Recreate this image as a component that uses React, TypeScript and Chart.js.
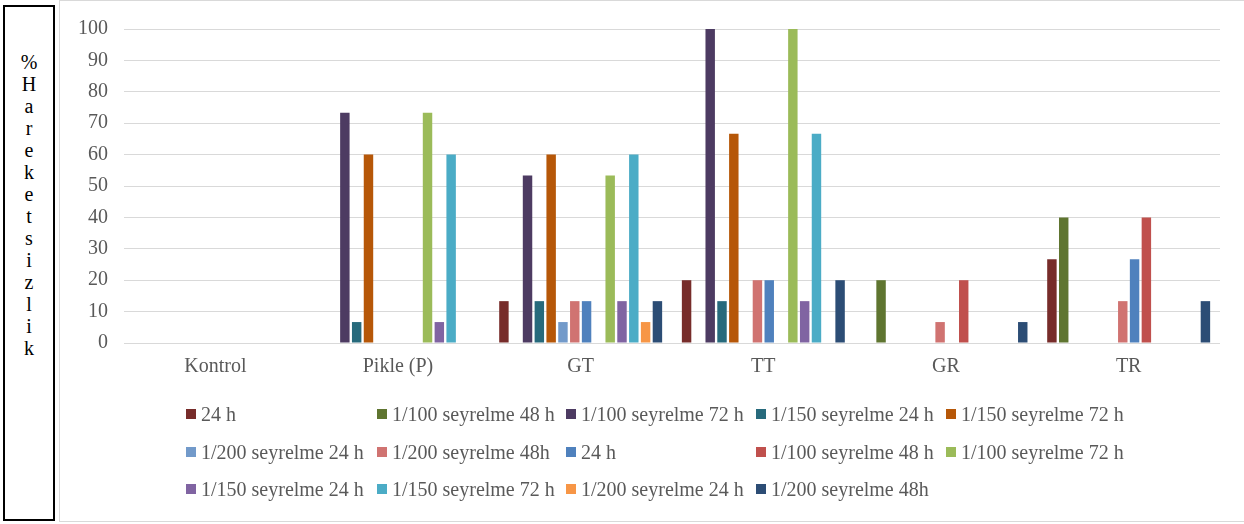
import React, { useEffect, useRef } from "react";
import { Chart, registerables } from "chart.js";

Chart.register(...registerables);

const categories = ["Kontrol", "Pikle (P)", "GT", "TT", "GR", "TR"];
const yTicks = [0, 10, 20, 30, 40, 50, 60, 70, 80, 90, 100];
const axisTitle = "%Hareketsizlik";

const seriesLabels = [
  "24 h",
  "1/100 seyrelme 48 h",
  "1/100 seyrelme 72 h",
  "1/150 seyrelme 24 h",
  "1/150 seyrelme 72 h",
  "1/200 seyrelme 24 h",
  "1/200 seyrelme 48h",
  "24 h",
  "1/100 seyrelme 48 h",
  "1/100 seyrelme 72 h",
  "1/150 seyrelme 24 h",
  "1/150 seyrelme 72 h",
  "1/200 seyrelme 24 h",
  "1/200 seyrelme 48h",
];

const seriesColors = [
  "#772C2A",
  "#5F7530",
  "#4D3B62",
  "#276A7C",
  "#B65708",
  "#729ACA",
  "#D07371",
  "#4F81BD",
  "#C0504D",
  "#9BBB59",
  "#8064A2",
  "#4BACC6",
  "#F79646",
  "#2C4D75",
];

const s1 = [0, 0, 13.33, 20, 0, 26.67];
const s2 = [0, 0, 0, 0, 20, 40];
const s3 = [0, 73.33, 53.33, 100, 0, 0];
const s4 = [0, 6.67, 13.33, 13.33, 0, 0];
const s5 = [0, 60, 60, 66.67, 0, 0];
const s6 = [0, 0, 6.67, 0, 0, 0];
const s7 = [0, 0, 13.33, 20, 6.67, 13.33];
const s8 = [0, 0, 13.33, 20, 0, 26.67];
const s9 = [0, 0, 0, 0, 20, 40];
const s10 = [0, 73.33, 53.33, 100, 0, 0];
const s11 = [0, 6.67, 13.33, 13.33, 0, 0];
const s12 = [0, 60, 60, 66.67, 0, 0];
const s13 = [0, 0, 6.67, 0, 0, 0];
const s14 = [0, 0, 13.33, 20, 6.67, 13.33];

const seriesValues = [s1, s2, s3, s4, s5, s6, s7, s8, s9, s10, s11, s12, s13, s14];

const FONT = '"Liberation Serif", "Times New Roman", serif';
const GRAY = "#595959";

export default function App() {
  const canvasRef = useRef<HTMLCanvasElement | null>(null);

  useEffect(() => {
    const canvas = canvasRef.current;
    if (!canvas) return;
    const chart = new Chart(canvas, {
      type: "bar",
      data: {
        labels: categories,
        datasets: seriesValues.map((vals, i) => ({
          label: seriesLabels[i],
          data: vals,
          backgroundColor: seriesColors[i],
          borderWidth: 0,
          categoryPercentage: 0.905,
          barPercentage: 0.8,
        })),
      },
      options: {
        animation: false,
        responsive: false,
        devicePixelRatio: 1,
        layout: { padding: { top: 27, right: 19, left: 0, bottom: 137 } },
        plugins: {
          legend: { display: false },
          tooltip: { enabled: false },
        },
        scales: {
          x: {
            grid: { display: false, drawTicks: false },
            border: { display: false },
            ticks: {
              font: { family: FONT, size: 20 },
              color: GRAY,
              padding: 12,
            },
            afterFit: (s: any) => {
              s.height = 40;
            },
          },
          y: {
            min: 0,
            max: 100,
            afterBuildTicks: (s: any) => {
              s.ticks = yTicks.map((v) => ({ value: v }));
            },
            grid: { color: "#d9d9d9", lineWidth: 1, drawTicks: false },
            border: { display: false },
            ticks: {
              font: { family: FONT, size: 20 },
              color: GRAY,
              padding: 16,
            },
            afterFit: (s: any) => {
              s.width = 64;
            },
          },
        },
      },
    });
    return () => chart.destroy();
  }, []);

  const colX = [186, 377, 566, 756, 946];
  const rowY = [414, 452, 489];

  return (
    <div
      style={{
        position: "absolute",
        left: 0,
        top: 0,
        width: 1244,
        height: 524,
        overflow: "hidden",
        background: "#fff",
        fontFamily: FONT,
      }}
    >
      <div
        style={{
          position: "absolute",
          left: 3,
          top: 5,
          width: 52,
          height: 516,
          border: "2px solid #000",
          boxSizing: "border-box",
          paddingTop: 44,
          textAlign: "center",
          fontSize: 20,
          lineHeight: "22px",
          color: "#000",
        }}
      >
        {axisTitle.split("").map((ch, i) => (
          <div key={i}>{ch}</div>
        ))}
      </div>
      <div
        style={{
          position: "absolute",
          left: 59,
          top: 0,
          width: 1200,
          height: 522,
          border: "1px solid #d9d9d9",
          boxSizing: "border-box",
        }}
      />
      <canvas
        ref={canvasRef}
        width={1179}
        height={519}
        style={{ position: "absolute", left: 60, top: 1, width: 1179, height: 519 }}
      />
      {seriesLabels.map((lab, i) => {
        const r = Math.floor(i / 5);
        const c = i % 5;
        return (
          <div
            key={i}
            style={{
              position: "absolute",
              left: colX[c],
              top: rowY[r] - 12,
              height: 24,
              display: "flex",
              alignItems: "center",
              whiteSpace: "nowrap",
              fontSize: 20,
              color: GRAY,
            }}
          >
            <span
              style={{
                display: "inline-block",
                width: 10,
                height: 10,
                background: seriesColors[i],
                marginRight: 5,
              }}
            />
            <span style={{ lineHeight: "24px" }}>{lab}</span>
          </div>
        );
      })}
    </div>
  );
}
